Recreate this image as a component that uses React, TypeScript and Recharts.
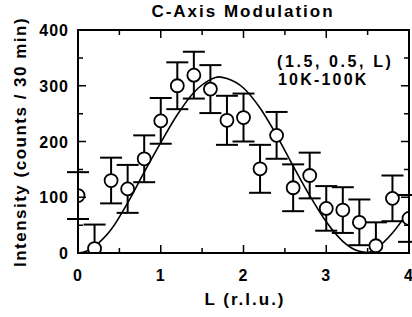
import React from 'react';
import { ComposedChart, XAxis, YAxis, Scatter, Line, ErrorBar } from 'recharts';

// measured points (L in r.l.u., intensity in counts / 30 min)
const L_VALUES = [0, 0.2, 0.4, 0.6, 0.8, 1.0, 1.2, 1.4, 1.6, 1.8, 2.0, 2.2, 2.4, 2.6, 2.8, 3.0, 3.2, 3.4, 3.6, 3.8, 4.0];
const INTENSITY = [103, 8, 130, 115, 169, 237, 300, 319, 294, 238, 243, 151, 211, 117, 139, 80, 77, 55, 13, 98, 62];
const ERRORS = [42, 43, 41, 43, 42, 41, 42, 42, 43, 44, 43, 43, 42, 42, 41, 40, 41, 41, 42, 41, 42];

// fit curve
const FIT_L = [0, 0.1, 0.2, 0.4, 0.6, 0.8, 1.0, 1.2, 1.4, 1.6, 1.7, 1.8, 2.0, 2.2, 2.4, 2.6, 2.8, 3.0, 3.2, 3.4, 3.5, 3.6, 3.8, 4.0];
const FIT_I = [0, 3, 12, 42, 90, 145, 198, 248, 288, 311, 316, 313, 296, 260, 211, 156, 103, 56, 21, 3, 1, 8, 36, 76];

const X_DOMAIN = [0, 4];
const Y_DOMAIN = [0, 400];
const X_TICKS = [0, 0.5, 1, 1.5, 2, 2.5, 3, 3.5, 4];
const Y_TICKS = [0, 50, 100, 150, 200, 250, 300, 350, 400];

// lower half of each bar stops at the axis, like the original plot
const points = L_VALUES.map((L, i) => ({
  L,
  I: INTENSITY[i],
  err: [Math.min(ERRORS[i], INTENSITY[i]), ERRORS[i]],
}));
const fit = FIT_L.map((L, i) => ({ L, I: FIT_I[i] }));

const W = 412;
const H = 317;
const MARGIN = { top: 30, right: 3, left: 0, bottom: 0 };
const Y_AXIS_W = 78;
const X_AXIS_H = 64;
// plot box, same numbers the chart uses for its layout
const PLOT = {
  left: MARGIN.left + Y_AXIS_W,
  right: W - MARGIN.right,
  top: MARGIN.top,
  bottom: H - MARGIN.bottom - X_AXIS_H,
};
const sx = (v: number) => PLOT.left + ((v - X_DOMAIN[0]) / (X_DOMAIN[1] - X_DOMAIN[0])) * (PLOT.right - PLOT.left);
const sy = (v: number) => PLOT.bottom - ((v - Y_DOMAIN[0]) / (Y_DOMAIN[1] - Y_DOMAIN[0])) * (PLOT.bottom - PLOT.top);

// inward ticks on all four sides as one path
const tickPath = [
  ...X_TICKS.map((v) => {
    const len = Number.isInteger(v) ? 8 : 5;
    return `M${sx(v)},${PLOT.bottom}v${-len}M${sx(v)},${PLOT.top}v${len}`;
  }),
  ...Y_TICKS.map((v) => {
    const len = v % 100 === 0 ? 8 : 5;
    return `M${PLOT.left},${sy(v)}h${len}M${PLOT.right},${sy(v)}h${-len}`;
  }),
].join('');

const FONT = '"Liberation Sans", Arial, Helvetica, sans-serif';

const BottomTick = (props: any) => {
  const { x, y, payload } = props;
  if (!Number.isInteger(payload.value)) return <g />;
  return (
    <text x={x} y={y + 28} textAnchor="middle" fontFamily={FONT} fontWeight="bold" fontSize={16} letterSpacing={1} fill="#000">
      {payload.value}
    </text>
  );
};

const LeftTick = (props: any) => {
  const { x, y, payload } = props;
  if (payload.value % 100 !== 0) return <g />;
  return (
    <text x={x - 9} y={y + 6} textAnchor="end" fontFamily={FONT} fontWeight="bold" fontSize={16} letterSpacing={1} fill="#000">
      {payload.value}
    </text>
  );
};

const OpenCircle = (props: any) => (
  <circle cx={props.cx} cy={props.cy} r={6.5} fill="#fff" stroke="#000" strokeWidth={1.8} />
);

export default function App() {
  const textStyle = { fontFamily: FONT, fontWeight: 'bold' as const, fill: '#000' };
  return (
    <div style={{ position: 'absolute', left: 0, top: 0, width: W, height: H, background: '#fff' }}>
      <ComposedChart width={W} height={H} margin={MARGIN}>
        <XAxis
          dataKey="L"
          type="number"
          domain={X_DOMAIN}
          allowDataOverflow
          ticks={X_TICKS}
          height={X_AXIS_H}
          tickSize={0}
          tickMargin={0}
          tick={<BottomTick />}
          tickLine={false}
          axisLine={false}
          interval={0}
        />
        <YAxis
          dataKey="I"
          type="number"
          domain={Y_DOMAIN}
          allowDataOverflow
          ticks={Y_TICKS}
          width={Y_AXIS_W}
          tickSize={0}
          tickMargin={0}
          tick={<LeftTick />}
          tickLine={false}
          axisLine={false}
          interval={0}
        />
        <Line
          data={fit}
          dataKey="I"
          type="monotone"
          stroke="#000"
          strokeWidth={1.6}
          dot={false}
          activeDot={false}
          isAnimationActive={false}
        />
        <Scatter data={points} dataKey="I" shape={<OpenCircle />} isAnimationActive={false}>
          <ErrorBar dataKey="err" direction="y" width={11} stroke="#000" strokeWidth={2} />
        </Scatter>
      </ComposedChart>

      {/* plot frame */}
      <div
        style={{
          position: 'absolute',
          left: PLOT.left - 1,
          top: PLOT.top - 1,
          width: PLOT.right - PLOT.left - 2,
          height: PLOT.bottom - PLOT.top - 2,
          border: '2px solid #000',
          pointerEvents: 'none',
        }}
      />
      <svg width={W} height={H} style={{ position: 'absolute', left: 0, top: 0, pointerEvents: 'none' }}>
        <path d={tickPath} fill="none" stroke="#000" strokeWidth={1.5} />

        <text x={243} y={17} textAnchor="middle" fontSize={17} letterSpacing={2} {...textStyle}>C-Axis Modulation</text>
        <text x={245} y={305} textAnchor="middle" fontSize={17} letterSpacing={2} {...textStyle}>L (r.l.u.)</text>
        <text
          transform="translate(26,142) rotate(-90)"
          x={0}
          y={0}
          textAnchor="middle"
          fontSize={17}
          letterSpacing={1.5}
          {...textStyle}
        >
          Intensity (counts / 30 min)
        </text>
        <text x={277} y={67} fontSize={16} letterSpacing={2.6} {...textStyle}>(1.5, 0.5, L)</text>
        <text x={278} y={85} fontSize={16} letterSpacing={2.2} {...textStyle}>10K-100K</text>
      </svg>
    </div>
  );
}
